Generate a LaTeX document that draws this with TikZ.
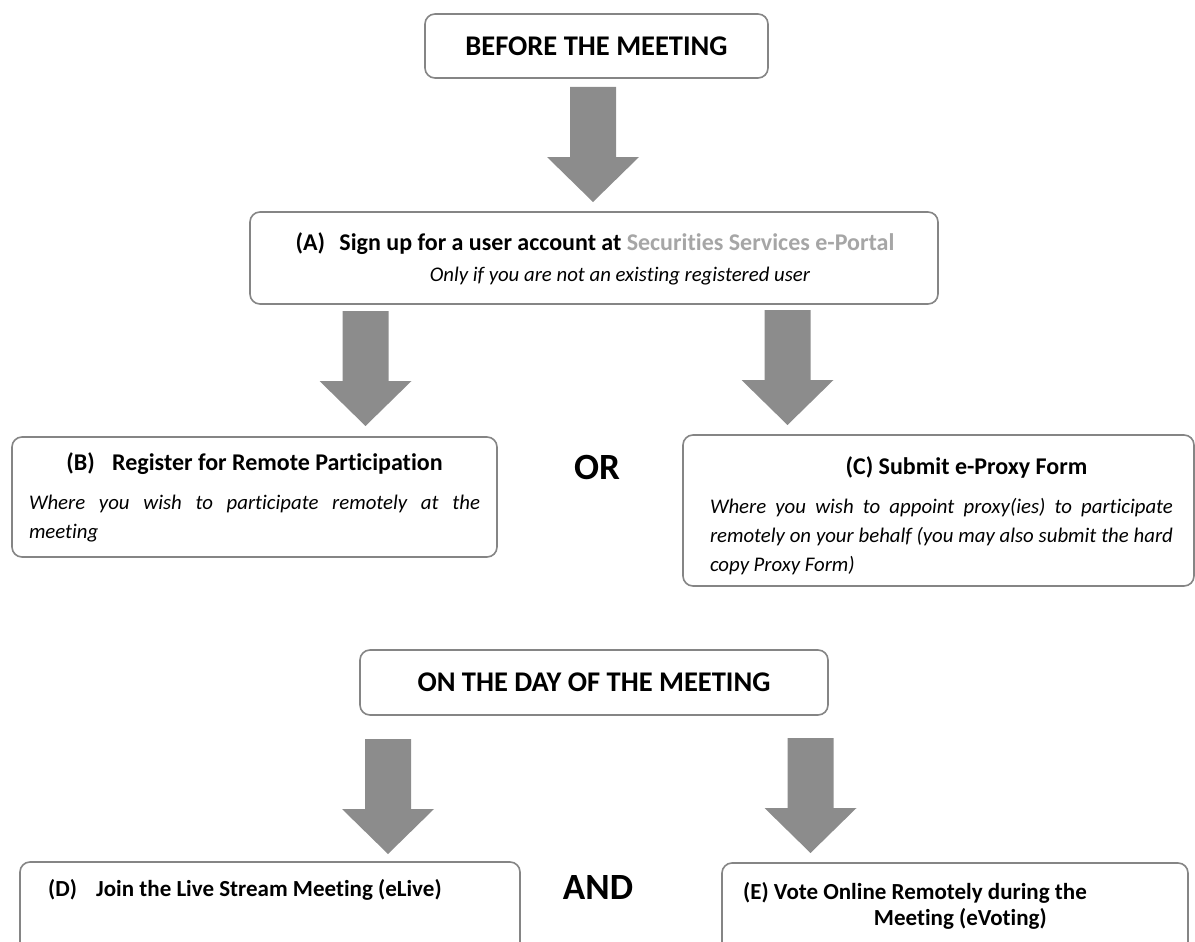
\documentclass[tikz,border=0pt]{standalone}
\usepackage{fontspec}
\setmainfont{Carlito}[Ligatures={NoCommon,NoContextual}]
\definecolor{boxgray}{HTML}{858585}
\definecolor{arrowgray}{HTML}{8C8C8C}
\definecolor{linkgray}{HTML}{A6A6A6}
\newcommand{\hdrfont}{\bfseries\fontsize{28.5}{32}\selectfont}
\newcommand{\ttlfont}{\bfseries\fontsize{24}{28}\selectfont}
\newcommand{\dfont}{\bfseries\fontsize{23}{28}\selectfont}
\newcommand{\itfont}{\itshape\fontsize{20.8}{29}\selectfont}
\newcommand{\bigfont}{\bfseries\fontsize{37}{40}\selectfont}
\begin{document}
\begin{tikzpicture}[x=1pt,y=-1pt,
  box/.style={draw=boxgray, line width=1.6pt, rounded corners=10pt, fill=white, inner sep=0pt},
  txt/.style={inner sep=0pt, text=black},
  blockarrow/.style={fill=arrowgray, draw=none}]
\useasboundingbox (0,0) rectangle (1195,942);
\clip (0,0) rectangle (1195,942);

% boxes
\node[box, minimum width=343pt, minimum height=64pt] (before) at (596.5,46) {\hdrfont BEFORE THE MEETING};
\node[box, minimum width=688pt, minimum height=92pt] (A) at (594,258) {};
\node[txt] (At) at (595,244) {\ttlfont (A)\hspace{9pt} Sign up for a user account at \textcolor{linkgray}{Securities Services e-Portal}};
\node[txt] (As) at (620,276) {\itfont Only if you are not an existing registered user};
\node[box, minimum width=485pt, minimum height=120pt] (B) at (254.5,497) {};
\node[txt, anchor=north] (Bt) at (254.5,452)
  {\begin{minipage}{451pt}{\centering\ttlfont (B)\hspace{12pt} Register for Remote Participation\par}\vspace{10pt}
   {\itfont Where you wish to participate remotely at the\linebreak meeting\par}\end{minipage}};
\node[box, minimum width=511pt, minimum height=151pt] (C) at (938.5,510.5) {};
\node[txt, anchor=north] (Ct) at (941.5,456)
  {\begin{minipage}{463pt}{\centering\ttlfont\hspace*{50pt}(C) Submit e-Proxy Form\par}\vspace{10pt}
   {\itfont Where you wish to appoint proxy(ies) to participate\linebreak remotely on your behalf (you may also submit the hard\linebreak copy Proxy Form)\par}\end{minipage}};
\node[box, minimum width=468pt, minimum height=65pt] (day) at (594,682.5) {\hdrfont ON THE DAY OF THE MEETING};
\node[box, minimum width=500pt, minimum height=110pt] (D) at (270,917) {};
\node[box, minimum width=466pt, minimum height=110pt] (E) at (955,918) {};
\node[txt, anchor=west] (Dt) at (48,890) {\dfont (D)\hspace{14pt} Join the Live Stream Meeting (eLive)};
\node[txt, anchor=west, align=right] (Et) at (743,906) {\dfont (E) Vote Online Remotely during the\\[4pt]\dfont Meeting (eVoting)\hspace*{40pt}};

% OR / AND
\node[txt] (or) at (597,467) {\bigfont OR};
\node[txt] (and) at (598,887) {\bigfont AND};

% block arrows: top centre of shaft
\coordinate (a1) at (593,87);
\coordinate (a2) at (365.5,311);
\coordinate (a3) at (787.5,310);
\coordinate (a4) at (388,739);
\coordinate (a5) at (810.5,738);
\foreach \p in {a1,a2,a3,a4,a5}{
  \fill[blockarrow] (\p) ++(-23,0) -- ++(46,0) -- ++(0,70) -- ++(23,0) -- ++(-46,45) -- ++(-46,-45) -- ++(23,0) -- cycle;
}
\end{tikzpicture}
\end{document}
